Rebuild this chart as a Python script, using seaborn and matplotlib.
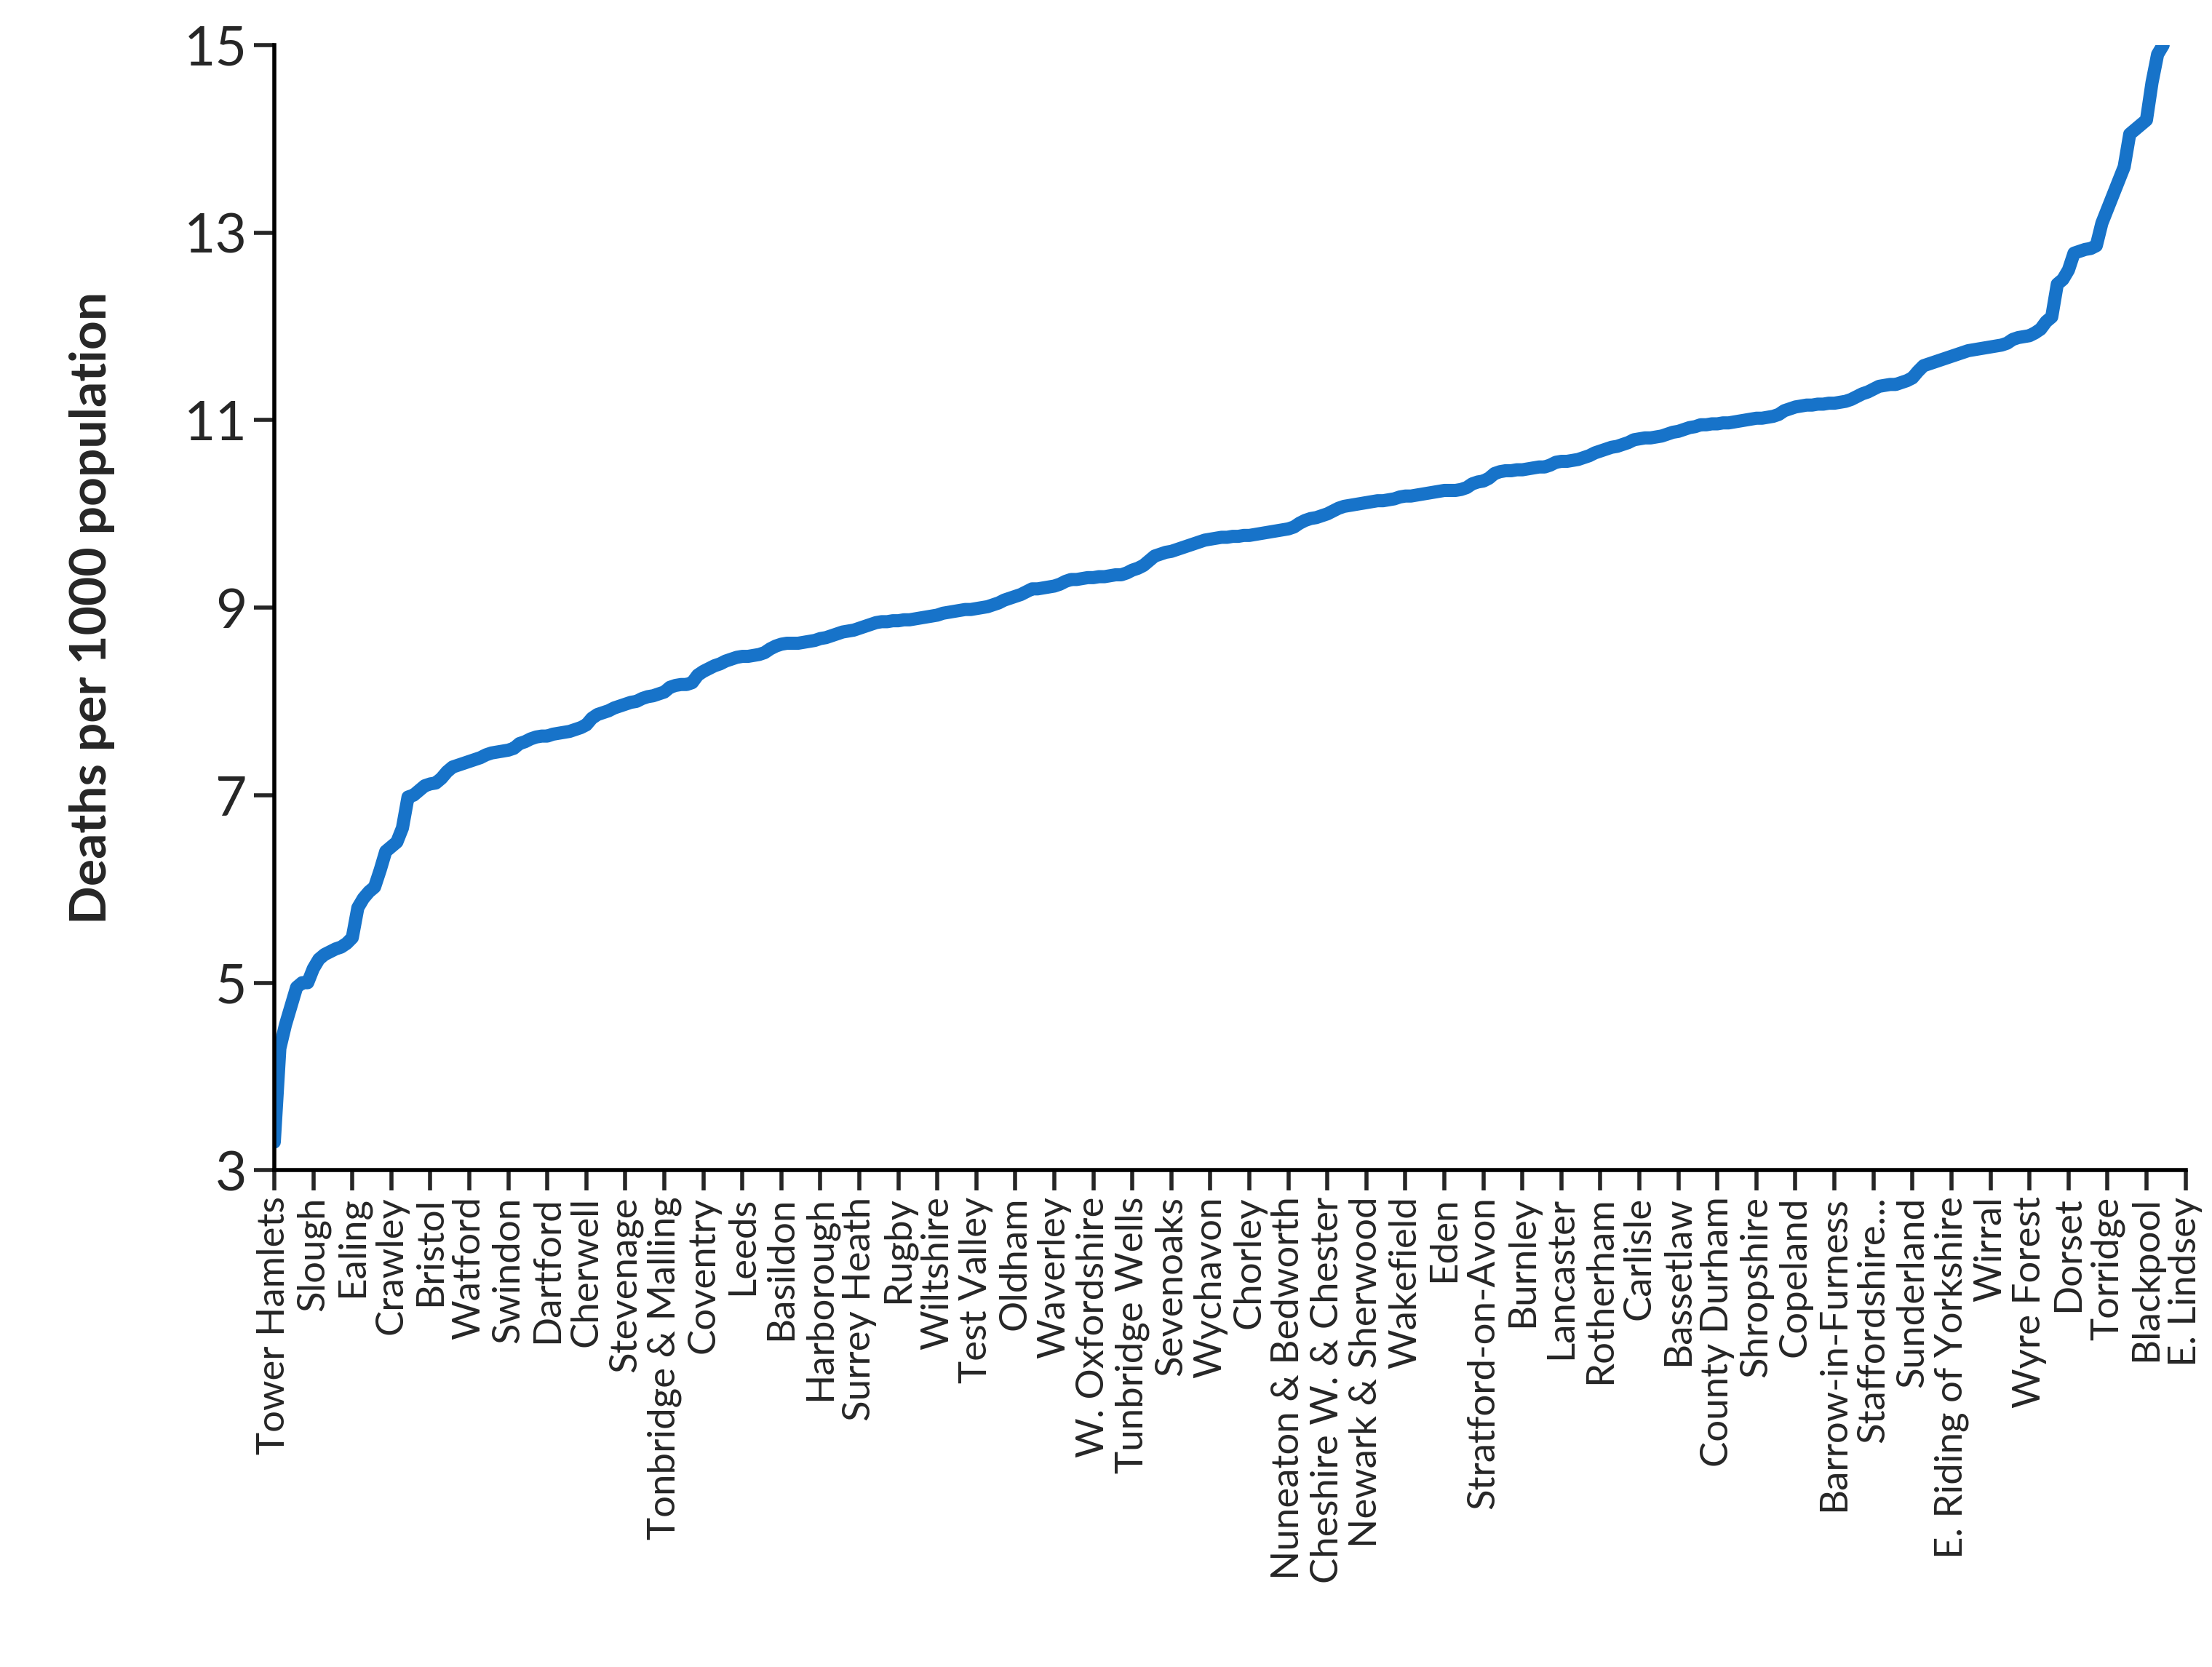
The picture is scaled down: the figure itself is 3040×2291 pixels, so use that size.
import matplotlib
matplotlib.use('Agg')
import matplotlib.pyplot as plt
import seaborn as sns
import numpy as np
import pandas as pd

# district names shown on the x axis (every 7th district)
tick_names = ['Tower Hamlets', 'Slough', 'Ealing', 'Crawley', 'Bristol', 'Watford', 'Swindon',
              'Dartford', 'Cherwell', 'Stevenage', 'Tonbridge & Malling', 'Coventry', 'Leeds',
              'Basildon', 'Harborough', 'Surrey Heath', 'Rugby', 'Wiltshire', 'Test Valley',
              'Oldham', 'Waverley', 'W. Oxfordshire', 'Tunbridge Wells', 'Sevenoaks', 'Wychavon',
              'Chorley', 'Nuneaton & Bedworth', 'Cheshire W. & Chester', 'Newark & Sherwood',
              'Wakefield', 'Eden', 'Stratford-on-Avon', 'Burnley', 'Lancaster', 'Rotherham',
              'Carlisle', 'Bassetlaw', 'County Durham', 'Shropshire', 'Copeland',
              'Barrow-in-Furness', 'Staffordshire...', 'Sunderland', 'E. Riding of Yorkshire',
              'Wirral', 'Wyre Forest', 'Dorset', 'Torridge', 'Blackpool', 'E. Lindsey']

# deaths per 1000 population, districts sorted ascending
deaths = [
    3.3, 4.3, 4.55, 4.75, 4.95, 5.0, 5.0,
    5.15, 5.25, 5.3, 5.33, 5.36, 5.38, 5.42,
    5.48, 5.8, 5.9, 5.97, 6.02, 6.2, 6.4,
    6.45, 6.5, 6.65, 6.98, 7.0, 7.05, 7.1,
    7.12, 7.13, 7.18, 7.25, 7.3, 7.32, 7.34,
    7.36, 7.38, 7.4, 7.43, 7.45, 7.46, 7.47,
    7.48, 7.5, 7.55, 7.57, 7.6, 7.62, 7.63,
    7.63, 7.65, 7.66, 7.67, 7.68, 7.7, 7.72,
    7.75, 7.82, 7.86, 7.88, 7.9, 7.93, 7.95,
    7.97, 7.99, 8.0, 8.03, 8.05, 8.06, 8.08,
    8.1, 8.15, 8.17, 8.18, 8.18, 8.2, 8.28,
    8.32, 8.35, 8.38, 8.4, 8.43, 8.45, 8.47,
    8.48, 8.48, 8.49, 8.5, 8.52, 8.56, 8.59,
    8.61, 8.62, 8.62, 8.62, 8.63, 8.64, 8.65,
    8.67, 8.68, 8.7, 8.72, 8.74, 8.75, 8.76,
    8.78, 8.8, 8.82, 8.84, 8.85, 8.85, 8.86,
    8.86, 8.87, 8.87, 8.88, 8.89, 8.9, 8.91,
    8.92, 8.94, 8.95, 8.96, 8.97, 8.98, 8.98,
    8.99, 9.0, 9.01, 9.03, 9.05, 9.08, 9.1,
    9.12, 9.14, 9.17, 9.2, 9.2, 9.21, 9.22,
    9.23, 9.25, 9.28, 9.3, 9.3, 9.31, 9.32,
    9.32, 9.33, 9.33, 9.34, 9.35, 9.35, 9.37,
    9.4, 9.42, 9.45, 9.5, 9.55, 9.57, 9.59,
    9.6, 9.62, 9.64, 9.66, 9.68, 9.7, 9.72,
    9.73, 9.74, 9.75, 9.75, 9.76, 9.76, 9.77,
    9.77, 9.78, 9.79, 9.8, 9.81, 9.82, 9.83,
    9.84, 9.86, 9.9, 9.93, 9.95, 9.96, 9.98,
    10.0, 10.03, 10.06, 10.08, 10.09, 10.1, 10.11,
    10.12, 10.13, 10.14, 10.14, 10.15, 10.16, 10.18,
    10.19, 10.19, 10.2, 10.21, 10.22, 10.23, 10.24,
    10.25, 10.25, 10.25, 10.26, 10.28, 10.32, 10.34,
    10.35, 10.38, 10.43, 10.45, 10.46, 10.46, 10.47,
    10.47, 10.48, 10.49, 10.5, 10.5, 10.52, 10.55,
    10.56, 10.56, 10.57, 10.58, 10.6, 10.62, 10.65,
    10.67, 10.69, 10.71, 10.72, 10.74, 10.76, 10.79,
    10.8, 10.81, 10.81, 10.82, 10.83, 10.85, 10.87,
    10.88, 10.9, 10.92, 10.93, 10.95, 10.95, 10.96,
    10.96, 10.97, 10.97, 10.98, 10.99, 11.0, 11.01,
    11.02, 11.02, 11.03, 11.04, 11.06, 11.1, 11.12,
    11.14, 11.15, 11.16, 11.16, 11.17, 11.17, 11.18,
    11.18, 11.19, 11.2, 11.22, 11.25, 11.28, 11.3,
    11.33, 11.36, 11.37, 11.38, 11.38, 11.4, 11.42,
    11.45, 11.52, 11.58, 11.6, 11.62, 11.64, 11.66,
    11.68, 11.7, 11.72, 11.74, 11.75, 11.76, 11.77,
    11.78, 11.79, 11.8, 11.82, 11.86, 11.88, 11.89,
    11.9, 11.93, 11.97, 12.05, 12.1, 12.45, 12.5,
    12.6, 12.78, 12.8, 12.82, 12.83, 12.86, 13.1,
    13.25, 13.4, 13.55, 13.7, 14.05, 14.1, 14.15,
    14.2, 14.6, 14.9, 15.0,
]

df = pd.DataFrame({'rank': np.arange(len(deaths)), 'deaths': deaths})

sns.set_style('white')
plt.rcParams['font.family'] = ['Lato', 'DejaVu Sans']

fig = plt.figure(figsize=(15.2, 11.455), dpi=200)
ax = fig.add_axes([0.124, 0.298, 0.864, 0.675])

sns.lineplot(data=df, x='rank', y='deaths', color='#1773c9', linewidth=6.5, ax=ax)

ax.set_xlim(0, len(deaths) - 1)
ax.set_ylim(3, 15)
ax.set_yticks([3, 5, 7, 9, 11, 13, 15])
ax.set_xticks(np.arange(len(tick_names)) * 7)
ax.set_xticklabels(tick_names, rotation=90, fontsize=19)
ax.tick_params(axis='y', labelsize=27, length=10, width=2, direction='out', left=True)
ax.tick_params(axis='x', length=10, width=2, direction='out', bottom=True, pad=3)

for s in ['top', 'right']:
    ax.spines[s].set_visible(False)
for s in ['left', 'bottom']:
    ax.spines[s].set_linewidth(2)
    ax.spines[s].set_color('black')

ax.set_xlabel('')
ax.set_ylabel('Deaths per 1000 population', fontsize=25, fontweight='bold', labelpad=34)

fig.savefig('out.png', dpi=200)
